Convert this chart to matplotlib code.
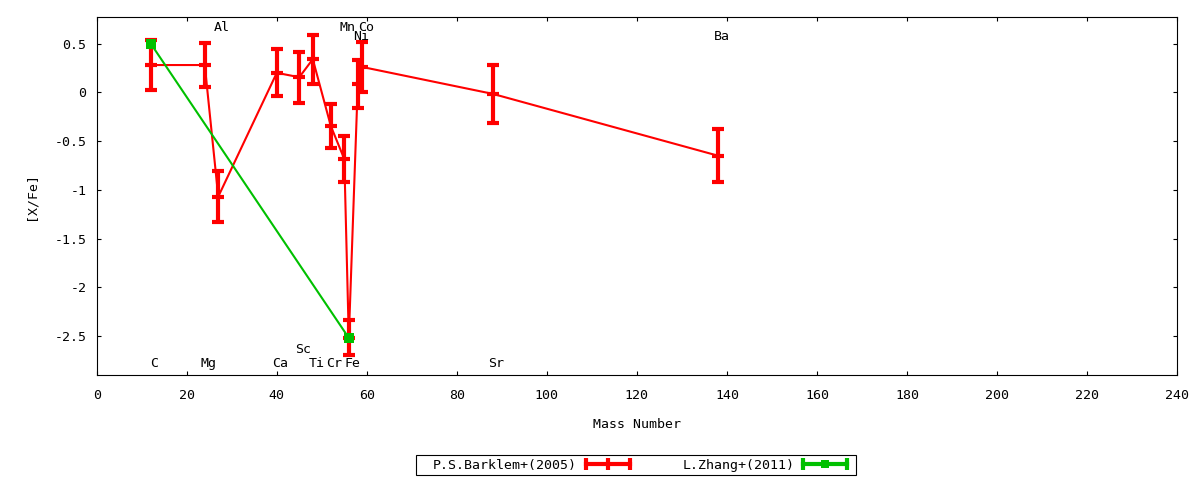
import matplotlib
matplotlib.use("Agg")
import matplotlib.pyplot as plt
from matplotlib.lines import Line2D
from matplotlib.patches import Rectangle
from matplotlib.legend_handler import HandlerLine2D, HandlerTuple
from matplotlib.ticker import FormatStrFormatter, MultipleLocator

# data
elements = ['C', 'Mg', 'Al', 'Ca', 'Sc', 'Ti', 'Cr', 'Mn', 'Fe', 'Ni', 'Co', 'Sr', 'Ba']
mass = [12, 24, 27, 40, 45, 48, 52, 55, 56, 58, 59, 88, 138]
barklem_xfe = [0.28, 0.28, -1.07, 0.20, 0.155, 0.34, -0.345, -0.685, -2.52, 0.086, 0.26, -0.016, -0.65]
barklem_err = [0.26, 0.23, 0.26, 0.24, 0.26, 0.25, 0.23, 0.24, 0.18, 0.25, 0.26, 0.30, 0.27]

zhang_mass = [12, 56]
zhang_xfe = [0.5, -2.52]
zhang_err = [0.0, 0.0]

# element label heights (data units)
label_y = [-2.78, -2.78, 0.67, -2.78, -2.64, -2.78, -2.78, 0.67, -2.78, 0.57, 0.67, -2.78, 0.57]

RED = '#ff0000'
GREEN = '#00c000'

plt.rcParams['font.family'] = ['DejaVu Sans Mono', 'DejaVu Sans']
plt.rcParams['font.size'] = 9.5
plt.rcParams['axes.unicode_minus'] = False

fig = plt.figure(figsize=(12, 4.8), dpi=100)
ax = fig.add_axes([0.0806, 0.2188, 0.9003, 0.7452])

ax.errorbar(mass, barklem_xfe, yerr=barklem_err, color=RED, lw=1.5,
            elinewidth=3, capsize=4, capthick=3, marker='_', ms=8, mew=3, zorder=3)
ax.errorbar(zhang_mass, zhang_xfe, yerr=zhang_err, color=GREEN, lw=1.5,
            elinewidth=3, capsize=4, capthick=3, marker='s', ms=6.5, mew=0, zorder=4)

for name, m, ly in zip(elements, mass, label_y):
    ax.text(m + 0.8, ly, name, ha='center', va='center', fontsize=9.5)

ax.set_xlim(0, 240)
ax.set_ylim(-2.9, 0.77)
ax.xaxis.set_major_locator(MultipleLocator(20))
ax.yaxis.set_major_locator(MultipleLocator(0.5))
ax.yaxis.set_major_formatter(FormatStrFormatter('%g'))
ax.tick_params(direction='in', length=3, width=0.8, top=True, right=True)
ax.tick_params(axis='x', pad=10)
ax.tick_params(axis='y', pad=7.5)
for s in ax.spines.values():
    s.set_linewidth(0.8)

ax.set_xlabel('Mass Number')
ax.xaxis.set_label_coords(0.5, -0.12)
ax.set_ylabel('[X/Fe]')
ax.yaxis.set_label_coords(-0.055, 0.5)

# gnuplot-like key samples: line with end caps, point in the middle
def key_sample(color, marker, ms, mew):
    caps = Line2D([], [], color=color, lw=3, marker='|', ms=8, mew=3)
    mark = Line2D([], [], color=color, lw=0, marker=marker, ms=ms, mew=mew)
    return caps, mark

red_caps, red_mark = key_sample(RED, '|', 8, 3)
green_caps, green_mark = key_sample(GREEN, 's', 6, 0)
hmap = {red_caps: HandlerLine2D(numpoints=2), green_caps: HandlerLine2D(numpoints=2),
        red_mark: HandlerLine2D(numpoints=1), green_mark: HandlerLine2D(numpoints=1),
        tuple: HandlerTuple(ndivide=1, pad=0)}
leg = fig.legend([(red_caps, red_mark), (green_caps, green_mark)],
                 ['P.S.Barklem+(2005)', 'L.Zhang+(2011)'],
                 handler_map=hmap, loc='center left', bbox_to_anchor=(433 / 1200, 1 - 465 / 480),
                 ncol=2, markerfirst=False, frameon=False, borderpad=0,
                 handlelength=3.9, handletextpad=0.38, columnspacing=3.7,
                 borderaxespad=0)
# key box drawn separately (gnuplot pads the box unevenly)
fig.patches.append(Rectangle((416 / 1200, 1 - 475 / 480), 440 / 1200, 20 / 480,
                             transform=fig.transFigure, fill=False, lw=0.8,
                             edgecolor='black'))

fig.savefig('out.png', dpi=100)
